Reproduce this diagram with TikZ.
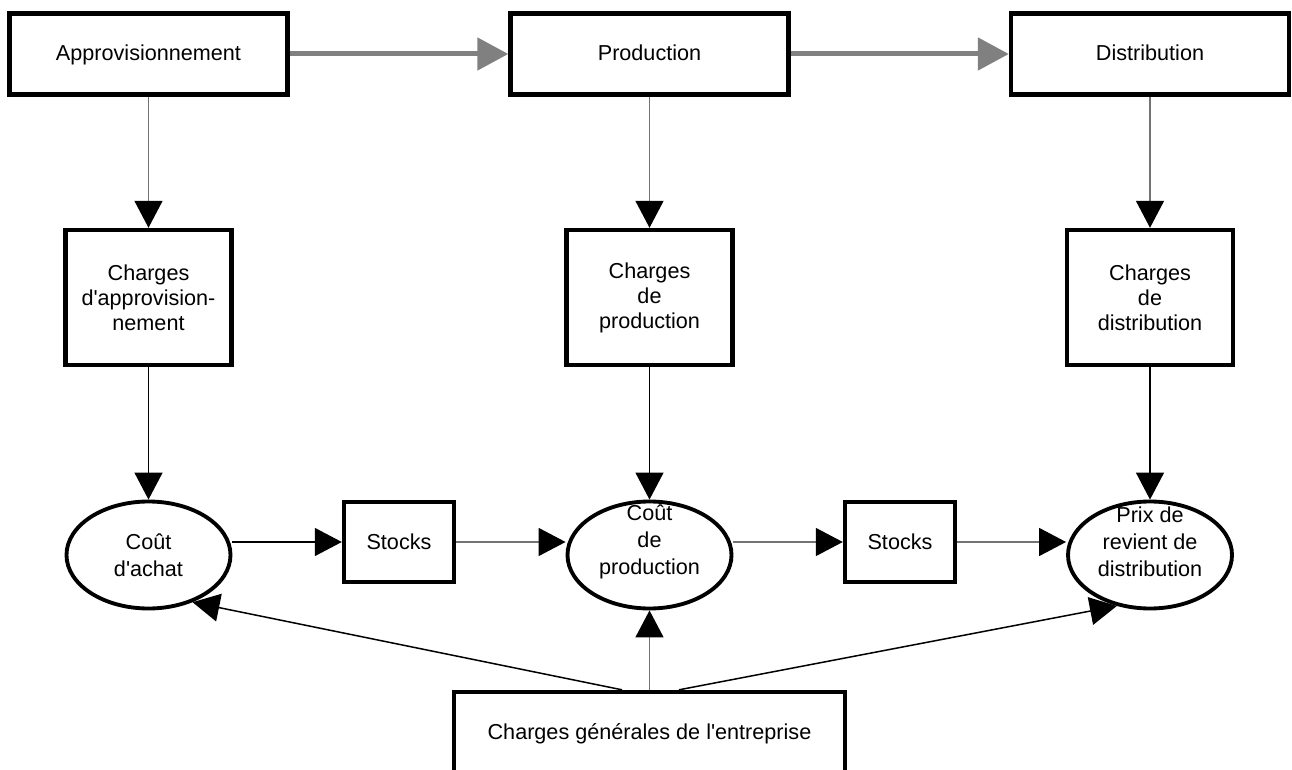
\documentclass[tikz,border=0pt]{standalone}
\usepackage{fontspec}
\setmainfont{Liberation Sans}
\usetikzlibrary{arrows.meta,shapes.geometric}

\begin{document}
\begin{tikzpicture}[
  boite/.style={draw, line width=2.5pt, align=center, inner sep=0pt},
  etape/.style={boite, minimum width=5.56cm, minimum height=1.62cm, text height=1.6ex, text depth=0.4ex},
  cout/.style={draw, ellipse, line width=2.2pt, minimum width=3.28cm, minimum height=2.14cm, inner sep=0pt},
  coutexte/.style={align=center, font=\fontsize{12.3}{15.4}\selectfont},
  flux/.style={draw=gray, line width=0.1cm, -{Triangle[length=0.62cm, width=0.64cm]}},
  fleche/.style={line width=0.03cm, -{Triangle[length=0.54cm, width=0.56cm, color=black]}},
  flechegrise/.style={fleche, draw=black!55},
]
\useasboundingbox (0,0) rectangle (25.84,15.38);
\fontsize{12.3}{14.2}\selectfont

\node[etape] (approv) at (2.97,14.30) {Approvisionnement};
\node[etape] (production) at (12.99,14.30) {Production};
\node[etape] (distribution) at (23.0,14.30) {Distribution};

\node[boite, minimum width=3.32cm, minimum height=2.7cm] (chapprov) at (2.97,9.43) {Charges\\d\textquotesingle approvision-\\nement};
\node[boite, minimum width=3.32cm, minimum height=2.7cm] (chprod) at (12.99,9.43) {Charges\\de\\production};
\node[boite, minimum width=3.32cm, minimum height=2.7cm] (chdistrib) at (23.0,9.43) {Charges\\de\\distribution};

\node[cout, label={[coutexte]center:Coût\\d\textquotesingle achat}] (coutachat) at (2.97,4.28) {};
\node[cout, label={[coutexte, yshift=0.26cm]center:Coût\\de\\production}] (coutprod) at (12.99,4.28) {};
\node[cout, label={[coutexte, yshift=0.26cm]center:Prix de\\revient de\\distribution}] (prixrevient) at (23.0,4.28) {};

\node[boite, minimum width=2.2cm, minimum height=1.6cm] (stocksa) at (7.98,4.54) {Stocks};
\node[boite, minimum width=2.2cm, minimum height=1.6cm] (stocksb) at (18.0,4.54) {Stocks};

\node[boite, minimum width=7.82cm, minimum height=1.66cm] (generales) at (12.99,0.71) {Charges générales de l\textquotesingle entreprise};

% flux principal
\draw[flux] (approv) -- (production);
\draw[flux] (production) -- (distribution);

% charges
\draw[flechegrise] (approv) -- (chapprov);
\draw[flechegrise] (production) -- (chprod);
\draw[flechegrise] (distribution) -- (chdistrib);
\draw[fleche] (chapprov) -- (coutachat);
\draw[fleche] (chprod) -- (coutprod);
\draw[fleche] (chdistrib) -- (prixrevient);

% stocks
\draw[fleche] (coutachat.east |- stocksa) -- (stocksa);
\draw[flechegrise] (stocksa) -- (stocksa -| coutprod.west);
\draw[flechegrise] (coutprod.east |- stocksb) -- (stocksb);
\draw[flechegrise] (stocksb) -- (stocksb -| prixrevient.west);

% charges generales
\coordinate (ga) at ([xshift=-0.55cm]generales.north);
\coordinate (gc) at ([xshift=0.59cm]generales.north);
\draw[fleche] (ga) -- (coutachat.313);
\draw[flechegrise] (generales) -- (coutprod);
\draw[fleche] (gc) -- (prixrevient.237);
\end{tikzpicture}
\end{document}
